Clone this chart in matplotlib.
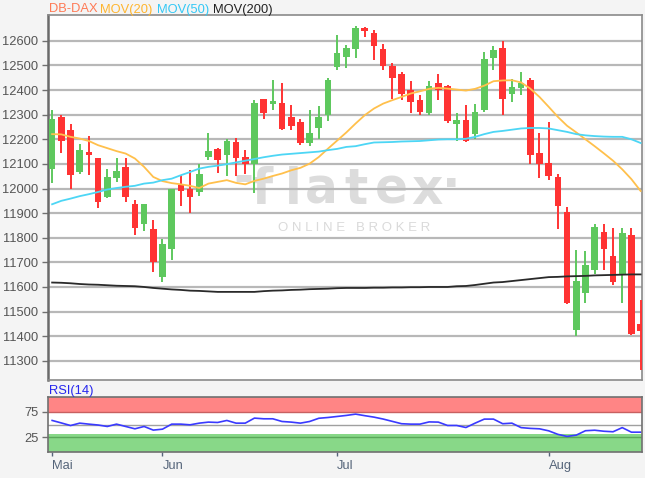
"""
    DB-DAX daily candles with moving averages and RSI(14) panel
"""

import numpy as np
import matplotlib.pyplot as plt

plt.rcParams['font.family'] = ['Liberation Sans', 'DejaVu Sans']

# candle data (one entry per trading day)
opens = [12078, 12290, 12238, 12066, 12149, 12122, 11966, 12043, 12086, 11936,
         11855, 11837, 11641, 11753, 12016, 11997, 11986, 12127, 12160, 12137,
         12187, 12130, 12101, 12363, 12345, 12348, 12290, 12271, 12185, 12244,
         12298, 12494, 12535, 12565, 12651, 12630, 12567, 12498, 12467, 12402,
         12359, 12307, 12427, 12416, 12264, 12280, 12223, 12321, 12532, 12572,
         12386, 12409, 12441, 12145, 12105, 12047, 11906, 11426, 11577, 11670,
         11823, 11726, 11647, 11812, 11451]
highs = [12321, 12298, 12261, 12180, 12212, 12126, 12081, 12126, 12126, 11955,
         11936, 11871, 11796, 11997, 12054, 12077, 12099, 12227, 12165, 12200,
         12207, 12158, 12359, 12363, 12440, 12427, 12338, 12284, 12321, 12334,
         12447, 12622, 12582, 12660, 12656, 12646, 12589, 12508, 12474, 12436,
         12379, 12436, 12464, 12420, 12305, 12338, 12345, 12553, 12580, 12600,
         12443, 12474, 12451, 12227, 12271, 12058, 11925, 11751, 11745, 11855,
         11857, 11840, 11840, 11840, 11548]
lows = [12024, 12145, 11997, 12058, 12054, 11922, 11962, 12028, 11946, 11810,
        11828, 11661, 11620, 11711, 11928, 11901, 11969, 12114, 12063, 12050,
        12050, 12058, 11982, 12283, 12321, 12237, 12237, 12176, 12172, 12203,
        12273, 12481, 12488, 12531, 12614, 12521, 12481, 12363, 12359, 12305,
        12298, 12298, 12359, 12267, 12193, 12189, 12203, 12311, 12481, 12298,
        12352, 12379, 12099, 12044, 12036, 11834, 11529, 11399, 11535, 11651,
        11670, 11607, 11535, 11403, 11264]
closes = [12282, 12195, 12054, 12156, 12137, 11946, 12047, 12072, 11966, 11841,
          11936, 11702, 11776, 11997, 11990, 11966, 12061, 12154, 12114, 12192,
          12123, 12101, 12349, 12307, 12357, 12240, 12253, 12185, 12226, 12290,
          12440, 12549, 12572, 12654, 12641, 12580, 12498, 12451, 12386, 12351,
          12311, 12416, 12399, 12273, 12278, 12193, 12309, 12528, 12562, 12364,
          12412, 12429, 12135, 12101, 12050, 11928, 11535, 11624, 11690, 11844,
          11753, 11620, 11819, 11407, 11420]

mov20 = [12221, 12220, 12210, 12203, 12193, 12176, 12164, 12152, 12142, 12122,
         12088, 12047, 12030, 12022, 12017, 12011, 12002, 12020, 12027, 12034,
         12023, 12017, 12031, 12040, 12051, 12061, 12074, 12084, 12101, 12128,
         12162, 12195, 12228, 12264, 12298, 12325, 12345, 12359, 12372, 12386,
         12395, 12405, 12409, 12406, 12402, 12398, 12405, 12418, 12436, 12439,
         12440, 12431, 12406, 12372, 12332, 12291, 12255, 12228, 12200, 12172,
         12143, 12113, 12078, 12038, 11990]
mov50 = [11936, 11950, 11959, 11969, 11977, 11986, 11996, 12002, 12007, 12011,
         12020, 12024, 12034, 12040, 12054, 12067, 12081, 12088, 12093, 12099,
         12106, 12113, 12120, 12127, 12133, 12138, 12141, 12144, 12147, 12150,
         12156, 12161, 12169, 12172, 12180, 12187, 12188, 12189, 12191, 12192,
         12193, 12196, 12199, 12200, 12200, 12202, 12210, 12221, 12230, 12234,
         12239, 12244, 12246, 12246, 12244, 12237, 12230, 12221, 12216, 12213,
         12211, 12210, 12210, 12200, 12185]
mov200 = [11618, 11617, 11615, 11612, 11610, 11609, 11607, 11605, 11604, 11603,
          11600, 11596, 11593, 11590, 11588, 11585, 11584, 11582, 11580, 11580,
          11580, 11580, 11580, 11583, 11585, 11586, 11588, 11589, 11591, 11592,
          11593, 11595, 11596, 11596, 11596, 11597, 11597, 11598, 11598, 11599,
          11599, 11600, 11600, 11600, 11603, 11604, 11608, 11613, 11618, 11620,
          11624, 11628, 11632, 11636, 11640, 11641, 11643, 11644, 11645, 11647,
          11648, 11649, 11650, 11651, 11651]
rsi14 = [57.8, 53.0, 48.0, 52.6, 50.7, 49.0, 46.2, 50.7, 46.2, 41.7,
         46.2, 39.2, 41.0, 50.7, 50.7, 49.4, 52.6, 54.6, 53.9, 57.8,
         52.6, 52.6, 62.3, 61.0, 61.0, 55.8, 54.6, 52.6, 55.8, 62.0,
         63.5, 65.5, 67.5, 70.0, 67.0, 64.2, 60.5, 56.0, 51.5, 50.7,
         50.7, 55.0, 54.6, 48.1, 48.1, 44.2, 52.6, 60.4, 60.4, 51.5,
         52.6, 44.0, 42.5, 41.7, 37.8, 31.0, 27.0, 29.5, 38.0, 39.0,
         37.0, 36.0, 44.0, 35.2, 35.2]

month_labels = ["Mai", "Jun", "Jul", "Aug"]
month_idx = [0, 12, 31, 54]

W, H = 645, 478
GREEN = '#5ec85e'
RED = '#ff3333'

def fig_xy(px, py):
    """pixel position (from top left) -> figure fraction"""
    return px / W, 1 - py / H

fig = plt.figure(figsize=(W / 100, H / 100), dpi=100, facecolor='#f4f4f4')
ax = fig.add_axes([48 / W, 1 - 380 / H, 594 / W, 365 / H])
ax_rsi = fig.add_axes([48 / W, 1 - 452 / H, 594 / W, 55 / H])

x = np.arange(len(closes))
o = np.array(opens)
c = np.array(closes)
up = c >= o
colors = np.where(up, GREEN, RED)

# candles: wicks then bodies
ax.vlines(x, lows, highs, colors=colors, linewidth=1.4, zorder=3)
body_low = np.minimum(o, c)
body_h = np.maximum(np.abs(c - o), 8)
ax.bar(x, body_h, bottom=body_low, width=0.72, color=colors, linewidth=0, zorder=3)

ax.plot(x, mov20, color='#ffc04c', lw=1.3, zorder=4)
ax.plot(x, mov50, color='#4dd6f5', lw=1.3, zorder=4)
ax.plot(x, mov200, color='#2a2a2a', lw=1.3, zorder=4)

ax.set_xlim(-0.45, 64.15)
ax.set_ylim(11222, 12705)
ax.set_yticks(np.arange(11300, 12601, 100))
ax.set_xticks([])
ax.set_axisbelow(True)
ax.yaxis.grid(True, color='#b8b8b8', lw=1.6)
ax.tick_params(axis='y', length=4, width=1, color='#707070',
               labelsize=9.3, labelcolor='#555555', pad=3)
for side in ['top', 'right', 'bottom']:
    ax.spines[side].set_color('#8a8a8a')
    ax.spines[side].set_linewidth(1.2)
ax.spines['left'].set_color('#6a6a6a')
ax.spines['left'].set_linewidth(1.8)

# flatex watermark behind the grid
wm = dict(transform=fig.transFigure, color='#dcdcdc', fontsize=35,
          fontweight='bold', family='DejaVu Sans', ha='center',
          va='baseline', zorder=0.3)
for ch, px in zip("flatex", [262, 293, 321, 356, 391, 427]):
    ax.text(*fig_xy(px, 204), ch, **wm)
ax.text(*fig_xy(243, 193), "-", **wm)
ax.text(*fig_xy(451, 200), "·", **wm)
ax.text(*fig_xy(354, 231), "O N L I N E   B R O K E R", transform=fig.transFigure,
        color='#dadada', fontsize=9.5, ha='center', va='baseline', zorder=0.3)

# RSI panel
ax_rsi.axhspan(75, 104, color='#ff8585', lw=0, zorder=0)
ax_rsi.axhspan(-4, 32, color='#88d888', lw=0, zorder=0)
ax_rsi.axhline(75, color='#c86060', lw=1.0, zorder=1)
ax_rsi.axhline(25, color='#5aa85a', lw=1.0, zorder=1)
ax_rsi.axhline(50, color='#a0a0a0', lw=1.0, zorder=1)
ax_rsi.plot(x, rsi14, color='#3a3aff', lw=1.2, zorder=2)
ax_rsi.set_xlim(-0.45, 64.15)
ax_rsi.set_ylim(-3, 103)
ax_rsi.set_yticks([25, 75])
ax_rsi.set_xticks(month_idx)
ax_rsi.set_xticklabels(month_labels, ha='left')
ax_rsi.tick_params(axis='y', length=4, width=1, color='#707070',
                   labelsize=9.3, labelcolor='#555555', pad=3)
ax_rsi.tick_params(axis='x', length=3.2, width=1, color='#56657a',
                   labelsize=9.3, labelcolor='#56657a', pad=2.4)
for s in ax_rsi.spines.values():
    s.set_color('#707070')
    s.set_linewidth(1.2)

# legend-like header
for txt, px, col in [("DB-DAX", 49, '#ff7a55'), ("MOV(20)", 100, '#ffb52e'),
                     ("MOV(50)", 156.7, '#33c8f5'), ("MOV(200)", 212.7, '#222222')]:
    fig.text(*fig_xy(px, 12.5), txt, color=col, fontsize=9.3, va='baseline')
fig.text(*fig_xy(49, 394), "RSI(14)", color='#2626ee', fontsize=9.3, va='baseline')

fig.savefig("out.png", dpi=100, facecolor=fig.get_facecolor())
